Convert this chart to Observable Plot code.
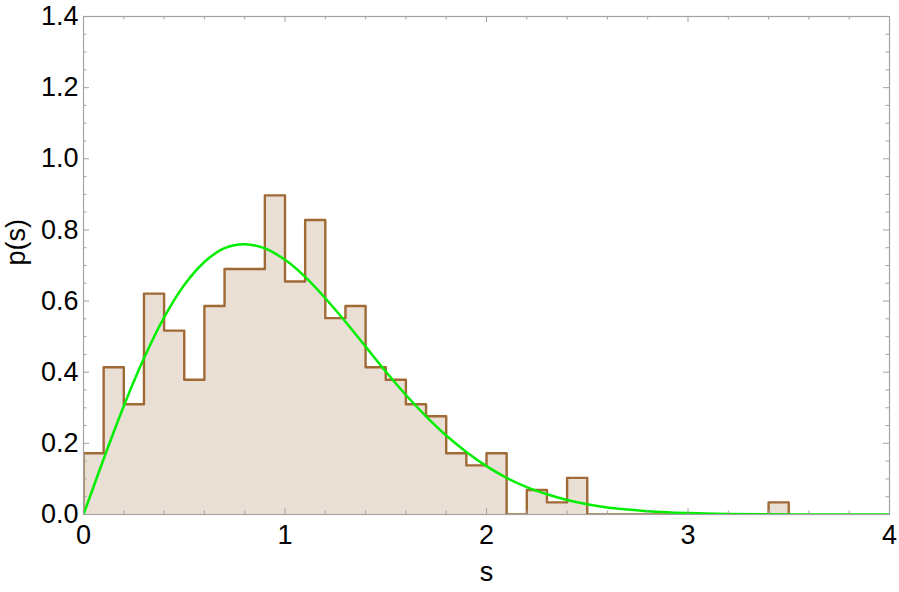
<!DOCTYPE html>
<html>
<head>
<meta charset="utf-8">
<script src="https://cdn.jsdelivr.net/npm/d3@7"></script>
<script src="https://cdn.jsdelivr.net/npm/@observablehq/plot@0.6"></script>
<style>
  html, body { margin: 0; padding: 0; background: #fff; }
  #chart svg { display: block; }
</style>
</head>
<body>
<div id="chart"></div>
<script>
// Histogram bins (left edges, width 0.1) and normalized heights
const binStart = [0.0,0.1,0.2,0.3,0.4,0.5,0.6,0.7,0.8,0.9,1.0,1.1,1.2,1.3,1.4,1.5,1.6,1.7,1.8,1.9,2.0,2.1,2.2,2.3,2.4,2.5,2.6,2.7,2.8,2.9,3.0,3.1,3.2,3.3,3.4];
const binHeight = [0.172,0.414,0.310,0.621,0.517,0.379,0.586,0.690,0.690,0.897,0.655,0.828,0.552,0.586,0.414,0.379,0.310,0.276,0.172,0.138,0.172,0.000,0.069,0.034,0.103,0,0,0,0,0,0,0,0,0,0.034];
const binWidth = 0.1;

// Green fitted curve
const curveS = [0,0.1,0.2,0.3,0.4,0.5,0.6,0.7,0.8,0.9,1.0,1.1,1.2,1.3,1.4,1.5,1.6,1.7,1.8,1.9,2.0,2.1,2.2,2.3,2.4,2.5,2.6,2.7,2.8,2.9,3.0,3.2,3.4,3.6,3.8,4.0];
const curveP = [0,0.156,0.305,0.439,0.554,0.645,0.710,0.749,0.760,0.748,0.716,0.668,0.608,0.542,0.472,0.402,0.336,0.276,0.222,0.176,0.136,0.103,0.077,0.057,0.041,0.029,0.020,0.014,0.009,0.006,0.004,0.0015,0.0005,0.0002,0.0,0.0];

// Tick positions
const xMajor = [0,1,2,3,4];
const xMinor = [0.2,0.4,0.6,0.8,1.2,1.4,1.6,1.8,2.2,2.4,2.6,2.8,3.2,3.4,3.6,3.8];
const yMajor = [0,0.2,0.4,0.6,0.8,1.0,1.2,1.4];
const yMinor = [0.05,0.1,0.15,0.25,0.3,0.35,0.45,0.5,0.55,0.65,0.7,0.75,0.85,0.9,0.95,1.05,1.1,1.15,1.25,1.3,1.35];

const W = 899, H = 592;
const mL = 83, mR = 10, mT = 16, mB = 78;
const innerW = W - mL - mR, innerH = H - mT - mB;

const bins = binStart.map((s, i) => ({x1: s, x2: s + binWidth, y: binHeight[i]}));
// step outline vertices derived from bins
const outline = [{x: bins[0].x1, y: 0}];
for (const b of bins) { outline.push({x: b.x1, y: b.y}); outline.push({x: b.x2, y: b.y}); }
outline.push({x: bins[bins.length - 1].x2, y: 0});

const curve = curveS.map((s, i) => ({s, p: curveP[i]}));

const gray = "#a3a3a3";
const font = "Liberation Sans, Arial, sans-serif";
const fs = 27;

const chart = Plot.plot({
  width: W, height: H,
  marginLeft: mL, marginRight: mR, marginTop: mT, marginBottom: mB,
  style: {fontFamily: font, fontSize: fs + "px", color: "#000", background: "#fff"},
  x: {domain: [0, 4]},
  y: {domain: [0, 1.4]},
  marks: [
    Plot.area(outline, {x1: "x", y1: 0, y2: "y", fill: "#e9dfd5", curve: "linear", clip: true}),
    Plot.line(outline, {x: "x", y: "y", stroke: "#9f6a36", strokeWidth: 2.4, curve: "linear", clip: true}),
    Plot.line(curve, {x: "s", y: "p", stroke: "#00ee00", strokeWidth: 2.5, curve: "catmull-rom", clip: true}),
    // frame
    Plot.frame({stroke: gray, strokeWidth: 1.2}),
    // ticks bottom
    Plot.ruleX(xMajor, {stroke: gray, insetTop: innerH - 6}),
    Plot.ruleX(xMinor, {stroke: gray, insetTop: innerH - 3.5}),
    // ticks top
    Plot.ruleX(xMajor, {stroke: gray, insetBottom: innerH - 6}),
    Plot.ruleX(xMinor, {stroke: gray, insetBottom: innerH - 3.5}),
    // ticks left
    Plot.ruleY(yMajor, {stroke: gray, insetRight: innerW - 6}),
    Plot.ruleY(yMinor, {stroke: gray, insetRight: innerW - 3.5}),
    // ticks right
    Plot.ruleY(yMajor, {stroke: gray, insetLeft: innerW - 6}),
    Plot.ruleY(yMinor, {stroke: gray, insetLeft: innerW - 3.5}),
    // tick labels and axis labels
    Plot.axisX(xMajor, {anchor: "bottom", tickSize: 0, tickPadding: 10, fontSize: fs, label: null, tickFormat: d3.format("d")}),
    Plot.axisY(yMajor, {anchor: "left", tickSize: 0, tickPadding: 5, fontSize: fs, label: null, tickFormat: d3.format(".1f")}),
    Plot.text(["s"], {frameAnchor: "bottom", dy: 66, fontSize: fs, text: d => d}),
    Plot.text(["p(s)"], {frameAnchor: "left", dx: -67, rotate: -90, fontSize: fs, text: d => d})
  ]
});
document.getElementById("chart").appendChild(chart);
</script>
</body>
</html>
